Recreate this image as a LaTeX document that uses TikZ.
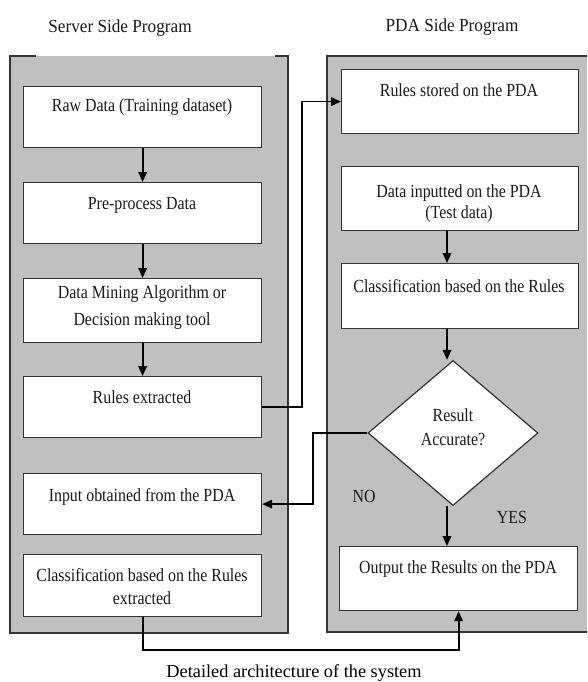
\documentclass[tikz,border=0pt]{standalone}
\usepackage{fontspec}
\setmainfont{Liberation Serif}
\newfontfamily\cfont{Liberation Serif}[FakeStretch=0.86]
\newfontfamily\tfont{Liberation Serif}[FakeStretch=0.93]
\usetikzlibrary{arrows.meta,shapes.geometric}
\definecolor{panelgray}{HTML}{C0C0C0}
\definecolor{edgegray}{HTML}{333333}
\definecolor{inkc}{HTML}{1A1A1A}
\begin{document}
\begin{tikzpicture}[x=1pt,y=-1pt,
  box/.style={draw=edgegray, line width=1.2pt, fill=white, inner sep=0pt, anchor=north west, rectangle},
  panel/.style={draw=edgegray, line width=1.4pt},
  conn/.style={draw=black, line width=1.8pt, line join=miter},
  arr/.style={conn, -{Triangle[length=10pt,width=8.5pt]}},
  txt/.style={font=\cfont\fontsize{18.5}{22}\selectfont, text=inkc, anchor=base, inner sep=0pt},
  ttl/.style={font=\tfont\fontsize{18.5}{22}\selectfont, text=inkc, anchor=base, inner sep=0pt},
  captxt/.style={font=\fontsize{18.3}{22}\selectfont, text=black, anchor=base, inner sep=0pt}
]
\useasboundingbox (0,0) rectangle (587,682);

% panels
\fill[panelgray] (10,56) rectangle (288,633);
\draw[panel] (36,56) -- (10,56) -- (10,633) -- (288,633) -- (288,56) -- (275,56);
\fill[panelgray] (327,56) rectangle (587,632);
\draw[panel] (587,56) -- (327,56) -- (327,632) -- (587,632);

% titles
\node[ttl] (tserver) at (120,33) {Server Side Program};
\node[ttl] (tpda) at (452,32) {PDA Side Program};

% left boxes
\node[box, minimum width=238pt, minimum height=61pt] (b1) at (23,86) {};
\node[box, minimum width=238pt, minimum height=61pt] (b2) at (23,182) {};
\node[box, minimum width=238pt, minimum height=64pt] (b3) at (23,278) {};
\node[box, minimum width=238pt, minimum height=61pt] (b4) at (23,376) {};
\node[box, minimum width=238pt, minimum height=61pt] (b5) at (23,473) {};
\node[box, minimum width=238pt, minimum height=62pt] (b6) at (23,554) {};

% right boxes
\node[box, minimum width=237pt, minimum height=64pt] (r1) at (341,69) {};
\node[box, minimum width=237pt, minimum height=64pt] (r2) at (341,166) {};
\node[box, minimum width=237pt, minimum height=65pt] (r3) at (341,263) {};
\node[box, minimum width=238pt, minimum height=64pt] (r4) at (339,546) {};
\node[diamond, draw=edgegray, line width=1.2pt, fill=white, inner sep=0pt,
      minimum width=170pt, minimum height=145pt] (d) at (453,433) {};

% helper coordinates
\coordinate (c1) at (302,0);
\coordinate (c2) at (313,0);
\coordinate (c3) at (0,650);
\coordinate (ax) at (447,0);

% left arrows
\draw[arr] (b1.south) -- (b2.north);
\draw[arr] (b2.south) -- (b3.north);
\draw[arr] (b3.south) -- (b4.north);

% right arrows
\draw[arr] (r2.south -| ax) -- (r3.north -| ax);
\draw[arr] (r3.south -| ax) -- (ax |- d.north);
\draw[arr] (ax |- d.south) -- (r4.north -| ax);

% cross connectors
\draw[arr] (b4.east) -- (b4.east -| c1) |- (r1.west);
\draw[arr] (d.west) -- (d.west -| c2) |- (b5.east);
\draw[arr] (b6.south) -- (b6.south |- c3) -| (r4.south);

% texts left
\node[txt] (t1) at (142,111) {Raw Data (Training dataset)};
\node[txt] (t2) at (142,209) {Pre-process Data};
\node[txt] (t3a) at (142,298) {Data Mining Algorithm or};
\node[txt] (t3b) at (142,325) {Decision making tool};
\node[txt] (t4) at (142,403) {Rules extracted};
\node[txt] (t5) at (142,501) {Input obtained from the PDA};
\node[txt] (t6a) at (142,581) {Classification based on the Rules};
\node[txt] (t6b) at (142,604) {extracted};

% texts right
\node[txt] (u1) at (459,97) {Rules stored on the PDA};
\node[txt] (u2a) at (459,197) {Data inputted on the PDA};
\node[txt] (u2b) at (459,218) {(Test data)};
\node[txt] (u3) at (459,292) {Classification based on the Rules};
\node[txt] (ud1) at (453,421) {Result};
\node[txt] (ud2) at (453,445) {Accurate?};
\node[txt] (uno) at (364,502) {NO};
\node[txt] (uyes) at (512,523) {YES};
\node[txt] (u4) at (458,573) {Output the Results on the PDA};

% caption
\node[captxt] (caption) at (294,677.5) {Detailed architecture of the system};
\end{tikzpicture}
\end{document}
